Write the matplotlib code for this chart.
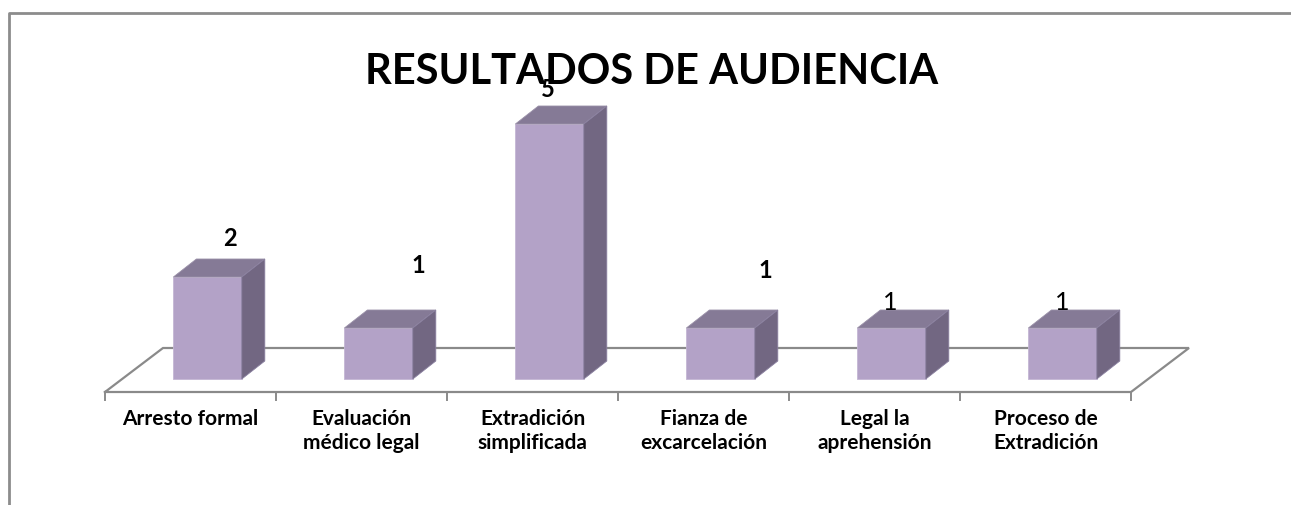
import matplotlib.pyplot as plt
from matplotlib.patches import Polygon

# data
categories = ['Arresto formal', 'Evaluación\nmédico legal', 'Extradición\nsimplificada',
              'Fianza de\nexcarcelación', 'Legal la\naprehensión', 'Proceso de\nExtradición']
values = [2, 1, 5, 1, 1, 1]
label_bold = [True, True, True, True, False, False]
# manual label offsets (x in category units, y in value units) as placed in the original
label_dx = [0.13, 0.23, -0.01, 0.26, -0.01, 0.0]
label_dy = [0.78, 1.24, 0.69, 1.14, 0.52, 0.52]

plt.rcParams['font.family'] = ['Lato', 'DejaVu Sans']

W, H = 1291, 506
fig = plt.figure(figsize=(W / 100, H / 100), dpi=100)
ax = fig.add_axes([0, 0, 1, 1])
ax.axis('off')

# pixel mapping: x=0 at px 105, 171 px per category; y=0 at px 380, 51 px per unit
px_x, px_y = 171.0, 51.0
x0, y0 = 105.0, 380.0
ax.set_xlim(-x0 / px_x, (W - x0) / px_x)
ax.set_ylim(-(H - y0) / px_y, y0 / px_y)

front_c = '#b3a2c7'
top_c = '#857a96'
side_c = '#726782'
grid_c = '#8a8a8a'

# 3d offsets
ddx, ddy = 23 / px_x, 18 / px_y
fdx, fdy = 58 / px_x, 44 / px_y
floor_front = -13 / px_y
n = len(categories)

# floor outline
ax.plot([0, n, n + fdx, fdx, 0],
        [floor_front, floor_front, floor_front + fdy, floor_front + fdy, floor_front],
        color=grid_c, lw=1.6, zorder=1, solid_joinstyle='miter')
for i in range(n + 1):
    ax.plot([i, i], [floor_front, floor_front - 8 / px_y], color=grid_c, lw=1.4, zorder=1)

# bars
bw = 0.4
for i, v in enumerate(values):
    left = i + 0.5 - bw / 2 + 0.1
    ax.bar(left, v, width=bw, align='edge', color=front_c, edgecolor='#c4b6d4', lw=0.6, zorder=3)
    top = Polygon([(left, v), (left + bw, v), (left + bw + ddx, v + ddy), (left + ddx, v + ddy)],
                  closed=True, facecolor=top_c, edgecolor='#9a90a8', lw=0.6, zorder=3)
    side = Polygon([(left + bw, 0), (left + bw + ddx, ddy), (left + bw + ddx, v + ddy), (left + bw, v)],
                   closed=True, facecolor=side_c, edgecolor='#8a80a0', lw=0.6, zorder=3)
    ax.add_patch(top)
    ax.add_patch(side)
    ax.text(left + bw / 2 + label_dx[i], v + label_dy[i], str(v), ha='center', va='center',
            fontsize=17 if label_bold[i] else 18, fontweight='bold' if label_bold[i] else 'normal',
            zorder=5)
    ax.text(i + 0.5, floor_front - 16 / px_y, categories[i], ha='center', va='top',
            fontsize=15, fontweight='bold', linespacing=1.22, zorder=5)

# title
fig.text(652 / W, 1 - 72 / H, 'RESULTADOS DE AUDIENCIA', ha='center', va='center',
         fontsize=30, fontweight='bold')

# chart border (top and left only visible)
fig.add_artist(plt.Line2D([9 / W, 9 / W, 1], [0, 1 - 13.5 / H, 1 - 13.5 / H],
                          color='#8c8c8c', lw=2, transform=fig.transFigure))

fig.savefig('out.png', dpi=100)
